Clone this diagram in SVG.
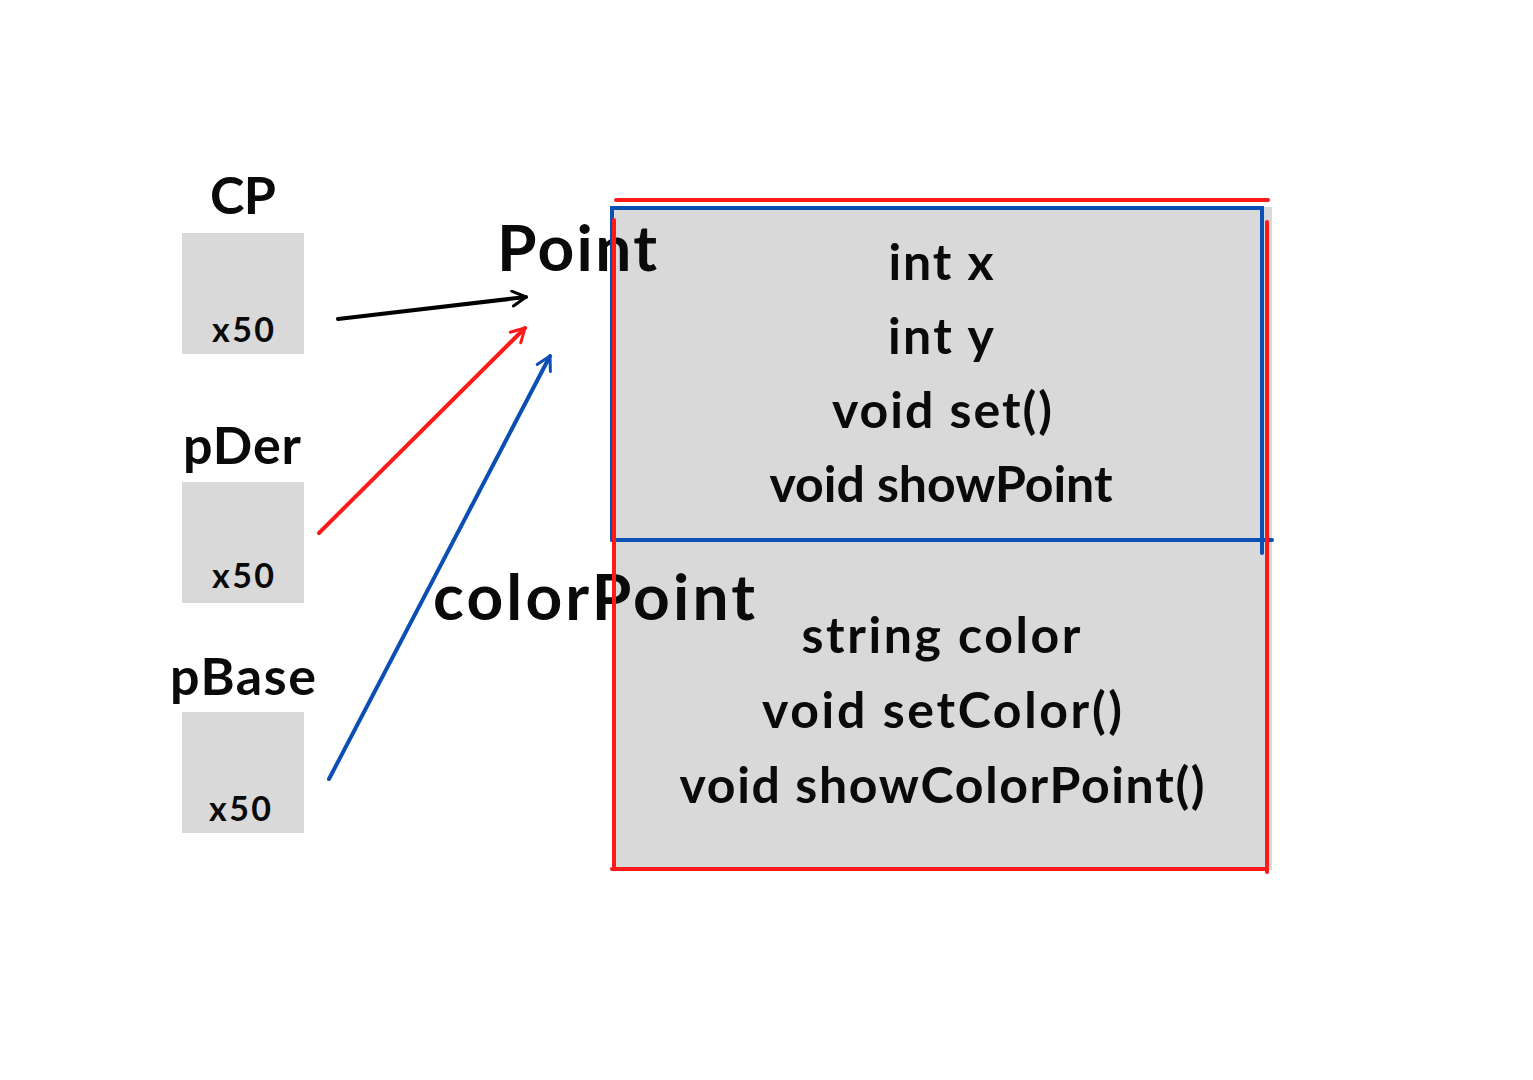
<svg xmlns="http://www.w3.org/2000/svg" width="1533" height="1080" viewBox="0 0 1533 1080">
<style>
.t{font-family:"Lato","Open Sans","Liberation Sans",sans-serif;font-weight:700;fill:#0a0a0a;text-anchor:middle}
.box{fill:#d9d9d9}
.m{font-size:50px}
.s{font-size:34px}
.n{font-size:52px}
.big{font-size:64px;text-anchor:start}
</style>
<defs>
<marker id="ak" viewBox="0 0 12 12" refX="10" refY="6" markerWidth="18" markerHeight="18" markerUnits="userSpaceOnUse" orient="auto"><path d="M1,1 L10,6 L1,11" fill="none" stroke="#000" stroke-width="2" stroke-linecap="round" stroke-linejoin="round"/></marker>
<marker id="ar" viewBox="0 0 12 12" refX="10" refY="6" markerWidth="18" markerHeight="18" markerUnits="userSpaceOnUse" orient="auto"><path d="M1,1 L10,6 L1,11" fill="none" stroke="#ff1a1a" stroke-width="2" stroke-linecap="round" stroke-linejoin="round"/></marker>
<marker id="ab" viewBox="0 0 12 12" refX="10" refY="6" markerWidth="18" markerHeight="18" markerUnits="userSpaceOnUse" orient="auto"><path d="M1,1 L10,6 L1,11" fill="none" stroke="#0b4fb4" stroke-width="2" stroke-linecap="round" stroke-linejoin="round"/></marker>
</defs>
<rect width="1533" height="1080" fill="#fff"/>
<g id="cp">
<text class="t n" x="243" y="214" textLength="66">CP</text>
<rect class="box" x="182" y="233" width="122" height="121"/>
<text class="t s" x="243" y="342" textLength="62">x50</text>
</g>
<g id="pDer">
<text class="t n" x="242" y="464" textLength="118">pDer</text>
<rect class="box" x="182" y="482" width="122" height="121"/>
<text class="t s" x="243" y="588" textLength="62">x50</text>
</g>
<g id="pBase">
<text class="t n" x="243" y="695" textLength="146">pBase</text>
<rect class="box" x="182" y="712" width="122" height="121"/>
<text class="t s" x="240" y="821" textLength="62">x50</text>
</g>
<g id="object">
<rect class="box" x="612" y="207" width="660" height="663"/>
<text class="t big" x="497" y="271" textLength="160">Point</text>
<text class="t big" x="433" y="620" textLength="322">colorPoint</text>
<text class="t m" x="941" y="280" textLength="105">int x</text>
<text class="t m" x="941" y="354" textLength="106">int y</text>
<text class="t m" x="942" y="428" textLength="220">void set()</text>
<text class="t m" x="941" y="502" textLength="343">void showPoint</text>
<text class="t m" x="941" y="653" textLength="279">string color</text>
<text class="t m" x="942" y="728" textLength="360">void setColor()</text>
<text class="t m" x="942" y="803" textLength="525">void showColorPoint()</text>
<g fill="none" stroke="#0b4fb4" stroke-width="4" stroke-linecap="round">
<polyline points="612,540 612,208 1262,208 1262,553"/>
<line x1="612" y1="540" x2="1272" y2="540"/>
</g>
<g fill="none" stroke="#ff1a1a" stroke-width="4" stroke-linecap="round">
<line x1="616" y1="200" x2="1268" y2="200"/>
<line x1="614" y1="220" x2="614" y2="869"/>
<line x1="1267" y1="222" x2="1267" y2="872"/>
<line x1="612" y1="869" x2="1266" y2="869"/>
</g>
</g>
<g id="connectors" fill="none" stroke-width="4" stroke-linecap="round">
<line x1="338" y1="319" x2="526" y2="297" stroke="#000" marker-end="url(#ak)"/>
<line x1="319" y1="533" x2="525" y2="328" stroke="#ff1a1a" marker-end="url(#ar)"/>
<line x1="329" y1="779" x2="550" y2="356" stroke="#0b4fb4" marker-end="url(#ab)"/>
</g>
</svg>
